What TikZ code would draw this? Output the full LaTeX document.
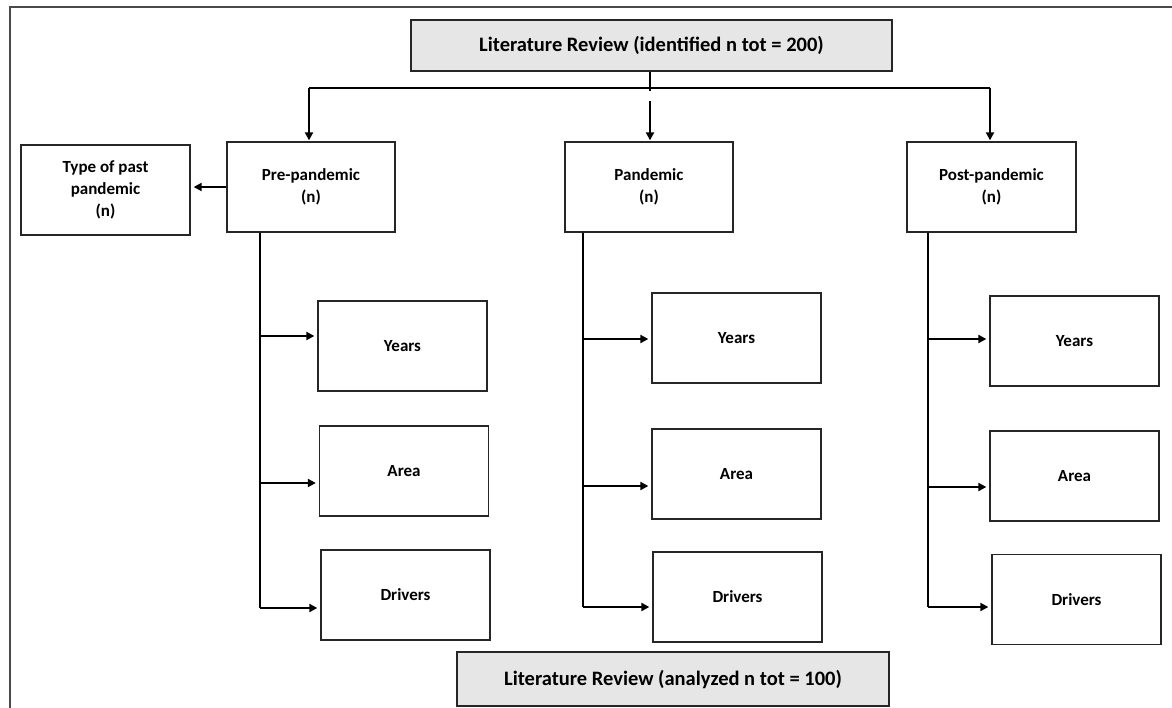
\documentclass[tikz,border=0pt]{standalone}
\usepackage{fontspec}
\setmainfont{Carlito}
\usetikzlibrary{arrows.meta}
\definecolor{boxgray}{HTML}{E6E6E6}
\definecolor{framegray}{HTML}{4A4A4A}
\tikzset{
  box/.style={draw=black!85, line width=1.3pt, fill=white, minimum width=169pt, minimum height=90pt, inner sep=2pt, align=center, font=\bfseries\fontsize{17}{22}\selectfont},
  graybox/.style={draw=black!85, line width=1.3pt, fill=boxgray, inner sep=0pt, align=center, font=\bfseries\fontsize{20.5}{24}\selectfont},
  conn/.style={line width=2.4pt, black},
  arr/.style={line width=2.4pt, black, -{Triangle[length=8pt,width=8pt]}, shorten >=3pt},
}
\begin{document}
\begin{tikzpicture}[x=1pt,y=-1pt]
\useasboundingbox (0,0) rectangle (1172,708);
\draw[framegray, line width=2pt] (10,708) -- (10,7) -- (1172,7);

\node[graybox, minimum width=481pt, minimum height=51pt] (top) at (651.5,45.5) {Literature Review (identified n tot = 200)};
\node[graybox, minimum width=432pt, minimum height=54pt] (bot) at (673,679) {Literature Review (analyzed n tot = 100)};

\node[box] (type) at (105.5,190) {Type of past\\pandemic\\(n)};
\node[box, minimum width=168pt] (pre) at (311,187) {Pre-pandemic\\(n)};
\node[box, minimum width=168pt] (pan) at (649,187) {Pandemic\\(n)};
\node[box] (post) at (991.5,187) {Post-pandemic\\(n)};

\node[box] (pyears) at (402.5,346) {Years};
\node[box] (parea) at (404,471) {Area};
\node[box] (pdriv) at (405.5,595) {Drivers};

\node[box] (myears) at (736.5,338) {Years};
\node[box] (marea) at (736.5,474) {Area};
\node[box] (mdriv) at (737.5,597) {Drivers};

\node[box] (qyears) at (1074.5,341) {Years};
\node[box] (qarea) at (1074.5,476) {Area};
\node[box] (qdriv) at (1076.5,599.5) {Drivers};

% top connectors
\coordinate (busL) at (309,88);
\coordinate (busR) at (990,88);
\coordinate (busM) at (650,88);
\coordinate (gapM) at (650,101);
\draw[conn] (busM |- top.south) -- ([yshift=-3pt]busM);
\draw[conn] (busL) -- (busR);
\draw[arr, shorten >=1pt] (busL) -- (busL |- pre.north);
\draw[arr, shorten >=1pt] (busR) -- (busR |- post.north);
\draw[arr, shorten >=1pt] (gapM) -- (gapM |- pan.north);
\draw[arr] (pre.west) -- (pre.west -| type.east);

% pre column
\coordinate (pj1) at (260,336);
\coordinate (pj2) at (260,483);
\coordinate (pj3) at (260,608);
\draw[conn] (pj1 |- pre.south) -- (pj3);
\draw[arr] (pj1) -- (pj1 -| pyears.west);
\draw[arr] (pj2) -- (pj2 -| parea.west);
\draw[arr] (pj3) -- (pj3 -| pdriv.west);

% pandemic column
\coordinate (mj1) at (583,339);
\coordinate (mj2) at (583,486);
\coordinate (mj3) at (583,607);
\draw[conn] (mj1 |- pan.south) -- (mj3);
\draw[arr] (mj1) -- (mj1 -| myears.west);
\draw[arr] (mj2) -- (mj2 -| marea.west);
\draw[arr] (mj3) -- (mj3 -| mdriv.west);

% post column
\coordinate (qj1) at (928,339);
\coordinate (qj2) at (928,487);
\coordinate (qj3) at (928,607);
\draw[conn] (qj1 |- post.south) -- (qj3);
\draw[arr] (qj1) -- (qj1 -| qyears.west);
\draw[arr] (qj2) -- (qj2 -| qarea.west);
\draw[arr] (qj3) -- (qj3 -| qdriv.west);
\end{tikzpicture}
\end{document}
